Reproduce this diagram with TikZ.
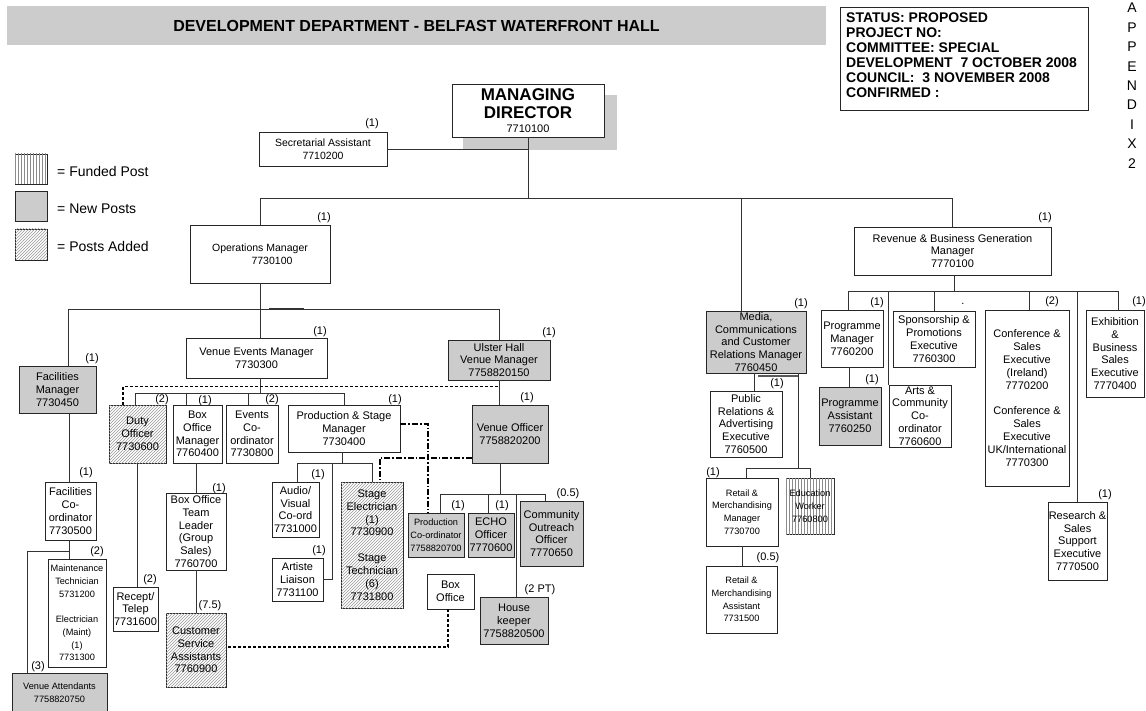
\documentclass[tikz,border=0pt]{standalone}
\usepackage{fontspec}
\setmainfont{Liberation Sans}
\usetikzlibrary{patterns,calc}
\newcommand{\fsz}[1]{\fontsize{#1}{12.8}\selectfont}
\tikzset{
  post/.style={draw=black!85, line width=0.8pt, fill=white, inner sep=0.5pt,
    align=center, font=\fsz{11}},
  newpost/.style={post, fill=black!20},
  addedpost/.style={post, postaction={pattern=north east lines, pattern color=black!40}},
  fundedpost/.style={post, postaction={pattern=vertical lines, pattern color=black!45}},
  smalltext/.style={font=\fsz{9.2}},
  midtext/.style={font=\fsz{10.5}},
  link/.style={draw=black!80, line width=0.8pt},
  dashlink/.style={draw=black, line width=1.6pt, dash pattern=on 3pt off 2pt},
  dotdashlink/.style={draw=black, line width=1.6pt, dash pattern=on 6pt off 2pt on 1.6pt off 2pt},
  lbl/.style={inner sep=0pt, font=\fsz{11}},
}
\begin{document}
\begin{tikzpicture}[x=1pt,y=-1pt]
\useasboundingbox (0,0) rectangle (1146,711);

% ---- heading, status panel, appendix mark
\node[fill=black!20, minimum width=819, minimum height=39, inner sep=0,
  font=\bfseries\fontsize{16}{18}\selectfont] (title) at (416.5,25.5)
  {DEVELOPMENT DEPARTMENT - BELFAST WATERFRONT HALL};
\node[draw=black!85, line width=0.8pt, minimum width=248, minimum height=103,
  anchor=north west, inner sep=0] (statusbox) at (840,7) {};
\node[anchor=north west, align=left, inner sep=0,
  font=\bfseries\fontsize{14}{15}\selectfont] (statustext) at (846,12.3)
  {STATUS: PROPOSED\\PROJECT NO:\\COMMITTEE: SPECIAL\\DEVELOPMENT~~7 OCTOBER 2008\\COUNCIL:~~3 NOVEMBER 2008\\CONFIRMED :};
\node[anchor=north, align=center, inner sep=0, font=\fontsize{14}{19.4}\selectfont]
  (appx) at (1132,3) {A\\P\\P\\E\\N\\D\\I\\X\\2};

% ---- key
\node[fundedpost, minimum width=32, minimum height=30] (keyfunded) at (31,169) {};
\node[newpost, minimum width=32, minimum height=30] (keynew) at (31,206) {};
\node[addedpost, minimum width=32, minimum height=31] (keyadded) at (31,244.5) {};
\node[anchor=west, inner sep=0, font=\fsz{14}] (keyfundedtxt) at (57,171) {= Funded Post};
\node[anchor=west, inner sep=0, font=\fsz{14}] (keynewtxt) at (57,209) {= New Posts};
\node[anchor=west, inner sep=0, font=\fsz{14}] (keyaddedtxt) at (57,246) {= Posts Added};

% ---- top level
\fill[black!20] (463,95) rectangle (617,150);
\node[post, minimum width=152, minimum height=53, font=\bfseries\fontsize{17}{18}\selectfont]
  (md) at (528,110.5) {MANAGING\\DIRECTOR\\[-4pt]{\mdseries\fontsize{11}{12}\selectfont 7710100}};
\node[post, midtext, minimum width=128, minimum height=34] (sec) at (323,149)
  {Secretarial Assistant\\7710200};
\node[post, midtext, minimum width=140, minimum height=58] (ops) at (260,254)
  {Operations Manager\\\hspace*{24pt}7730100};
\node[post, minimum width=197, minimum height=48] (rev) at (952.5,251)
  {Revenue \& Business Generation\\Manager\\7770100};

% ---- operations
\node[newpost, minimum width=77, minimum height=47] (fm) at (57.5,389.5)
  {Facilities\\Manager\\7730450};
\node[post, minimum width=141, minimum height=40] (vem) at (256.5,358)
  {Venue Events Manager\\7730300};
\node[newpost, minimum width=102, minimum height=40] (ulster) at (499,360)
  {Ulster Hall\\Venue Manager\\7758820150};
\node[addedpost, minimum width=57, minimum height=58] (duty) at (137.5,434)
  {Duty\\Officer\\7730600};
\node[post, minimum width=49, minimum height=58] (bom) at (197.5,434)
  {Box\\Office\\Manager\\7760400};
\node[post, minimum width=52, minimum height=58] (events) at (252,434)
  {Events\\Co-\\ordinator\\7730800};
\node[post, minimum width=112, minimum height=47] (ps) at (344,428.5)
  {Production \& Stage\\Manager\\7730400};
\node[newpost, minimum width=76, minimum height=58] (vo) at (510,434)
  {Venue Officer\\7758820200};
\node[post, minimum width=51, minimum height=58] (fc) at (70.5,511)
  {Facilities\\Co-\\ordinator\\7730500};
\node[post, smalltext, minimum width=58, minimum height=108] (maint) at (77,613)
  {Maintenance\\Technician\\5731200\\[12.5pt]Electrician\\(Maint)\\(1)\\7731300};
\node[newpost, smalltext, minimum width=95, minimum height=39] (va) at (59.5,692.5)
  {Venue Attendants\\7758820750};
\node[post, minimum width=45, minimum height=44] (recept) at (135.5,609)
  {Recept/\\Telep\\7731600};
\node[post, minimum width=60, minimum height=77] (botl) at (196,531.5)
  {Box Office\\Team\\Leader\\(Group\\Sales)\\7760700};
\node[addedpost, minimum width=60, minimum height=74] (cs) at (196,650)
  {Customer\\Service\\Assistants\\7760900};
\node[post, minimum width=47, minimum height=55] (audio) at (295.5,509.5)
  {Audio/\\Visual\\Co-ord\\7731000};
\node[addedpost, minimum width=62, minimum height=126] (stage) at (372,545)
  {Stage\\Electrician\\(1)\\7730900\\[13pt]Stage\\Technician\\(6)\\7731800};
\node[post, minimum width=51, minimum height=43] (artiste) at (297.5,579.5)
  {Artiste\\Liaison\\7731100};
\node[newpost, smalltext, minimum width=56, minimum height=44] (pcoord) at (436,535)
  {Production\\Co-ordinator\\7758820700};
\node[newpost, minimum width=46, minimum height=44] (echo) at (491,535)
  {ECHO\\Officer\\7770600};
\node[newpost, minimum width=63, minimum height=65] (comm) at (551.5,533.5)
  {Community\\Outreach\\Officer\\7770650};
\node[post, minimum width=47, minimum height=35] (boxoff) at (450.5,591.5)
  {Box\\Office};
\node[newpost, minimum width=68, minimum height=47] (house) at (514,620.5)
  {House\\keeper\\7758820500};

% ---- media, communications and revenue
\node[newpost, minimum width=100, minimum height=62] (media) at (756,342)
  {Media,\\Communications\\and Customer\\Relations Manager\\7760450};
\draw[black!65, line width=1.2pt] ($(media.south)+(2,2.5)$) -- ($(media.south)+(42,2.5)$);
\node[post, minimum width=72, minimum height=66] (pr) at (746,424)
  {Public\\Relations \&\\Advertising\\Executive\\7760500};
\node[post, smalltext, minimum width=72, minimum height=68] (rm) at (742,512)
  {Retail \&\\Merchandising\\Manager\\7730700};
\node[fundedpost, smalltext, minimum width=48, minimum height=56] (edu) at (810,506)
  {Education\\Worker\\7760800};
\node[post, smalltext, minimum width=71, minimum height=67] (ra) at (741.5,599.5)
  {Retail \&\\Merchandising\\Assistant\\7731500};
\node[post, minimum width=62, minimum height=57] (pm) at (852,338.5)
  {Programme\\Manager\\7760200};
\node[newpost, minimum width=62, minimum height=58] (pa) at (850,416)
  {Programme\\Assistant\\7760250};
\node[post, minimum width=82, minimum height=56] (spons) at (934,339)
  {Sponsorship \&\\Promotions\\Executive\\7760300};
\node[post, minimum width=62, minimum height=62] (arts) at (920,416)
  {Arts \&\\Community\\Co-\\ordinator\\7760600};
\node[post, minimum width=84, minimum height=176] (conf) at (1027,398)
  {Conference \&\\Sales\\Executive\\(Ireland)\\7770200\\[13pt]Conference \&\\Sales\\Executive\\UK/International\\7770300};
\node[post, minimum width=58, minimum height=87] (exhib) at (1115,353.5)
  {Exhibition\\\&\\Business\\Sales\\Executive\\7770400};
\node[post, minimum width=59, minimum height=78] (research) at (1077.5,541)
  {Research \&\\Sales\\Support\\Executive\\7770500};

% ---- post counts
\node[lbl] (nsec) at (372,124) {(1)};
\node[lbl] (nops) at (324,218) {(1)};
\node[lbl] (nrev) at (1045,218) {(1)};
\node[lbl] (nfm) at (92,359) {(1)};
\node[lbl] (nvem) at (320,332) {(1)};
\node[lbl] (nulster) at (549,333) {(1)};
\node[lbl] (nduty) at (162,400) {(2)};
\node[lbl] (nbom) at (205,401) {(1)};
\node[lbl] (nevents) at (272,400) {(2)};
\node[lbl] (nps) at (395,400) {(1)};
\node[lbl] (nvo) at (527,398) {(1)};
\node[lbl] (nfc) at (86,473) {(1)};
\node[lbl] (nmaint) at (97,552) {(2)};
\node[lbl] (nva) at (38,667) {(3)};
\node[lbl] (nrecept) at (150,580) {(2)};
\node[lbl] (nbotl) at (219,489) {(1)};
\node[lbl] (ncs) at (210,606) {(7.5)};
\node[lbl] (naudio) at (318,475) {(1)};
\node[lbl] (nartiste) at (319,551) {(1)};
\node[lbl] (npcoord) at (458,506) {(1)};
\node[lbl] (necho) at (502,506) {(1)};
\node[lbl] (ncomm) at (568,494) {(0.5)};
\node[lbl] (nhouse) at (540,590) {(2 PT)};
\node[lbl] (nmedia) at (801,304) {(1)};
\node[lbl] (npr) at (777,384) {(1)};
\node[lbl] (nrm) at (713,473) {(1)};
\node[lbl] (nra) at (768,558) {(0.5)};
\node[lbl] (npm) at (877,303) {(1)};
\node[lbl] (npa) at (872,380) {(1)};
\node[lbl] (nspons) at (963,304) {.};
\node[lbl] (nconf) at (1052,302) {(2)};
\node[lbl] (nexhib) at (1139,302) {(1)};
\node[lbl] (nresearch) at (1105,495) {(1)};

% ---- reporting lines: director level
\draw[link] (sec.east) -- (sec.east -| md.south);
\draw[link] (md.south) -- ++(0,61) coordinate (topbar);
\draw[link] (ops.north) -- (ops.north |- topbar) -- (rev.north |- topbar) -- (rev.north);
\coordinate (mediain) at ($(media.north)+(-15,0)$);
\draw[link] (mediain) -- (mediain |- topbar);

% ---- operations branch
\draw[link] (ops.south) -- ++(0,26) coordinate (opsbar);
\draw[link] (opsbar) -- (opsbar |- vem.north);
\coordinate (fmin) at ($(fm.north)+(10.5,0)$);
\draw[link] (fmin) -- (fmin |- opsbar) -- (ulster.north |- opsbar) -- (ulster.north);
\draw[black!80, line width=2pt] ($(opsbar)+(9,0)$) -- ++(35,0);

\coordinate (vemout) at ($(vem.south)+(3.5,0)$);
\draw[link] (vemout) -- ++(0,15) coordinate (vembar);
\coordinate (dutyin) at ($(duty.north)+(-2.5,0)$);
\coordinate (bomin) at ($(bom.north)+(-11.5,0)$);
\coordinate (evin) at ($(events.north)+(-4,0)$);
\draw[link] (dutyin) -- (dutyin |- vembar) -- (ps.north |- vembar) -- (ps.north);
\draw[link] (bomin) -- (bomin |- vembar);
\draw[link] (evin) -- (evin |- vembar);

\coordinate (dutydash) at ($(duty.north)+(-14.5,0)$);
\coordinate (dashy) at ($(vem.south)+(0,8)$);
\draw[dashlink] (dutydash) -- (dutydash |- dashy) -- (ulster.south |- dashy);
\draw[link] (ulster.south) -- (ulster.south |- vo.north);

\coordinate (psdd) at ($(ps.east)+(0,-4.5)$);
\coordinate (pcin) at ($(pcoord.north)+(-8,0)$);
\draw[dotdashlink] (psdd) -- (psdd -| pcin) -- (pcin);
\coordinate (vodd) at ($(vo.west)+(0,24)$);
\coordinate (stagein2) at ($(stage.north)+(8,0)$);
\draw[dotdashlink] (vodd) -- (vodd -| stagein2) -- (stagein2);

\coordinate (psout) at ($(ps.south)+(-2,0)$);
\draw[link] (psout) -- ++(0,11) coordinate (psbar);
\coordinate (audioin) at ($(audio.north)+(1.5,0)$);
\draw[link] (audioin) -- (audioin |- psbar) -- (stage.north |- psbar) -- (stage.north);
\coordinate (artline) at ($(psbar)+(-10,0)$);
\draw[link] (artiste.east) -- (artiste.east -| artline) -- (artline);

\coordinate (voout) at ($(vo.south)+(-10,0)$);
\draw[link] (voout) -- ++(0,31) coordinate (vobar);
\coordinate (pcin2) at ($(pcoord.north)+(4,0)$);
\coordinate (echoin) at ($(echo.north)+(-3,0)$);
\coordinate (comin) at ($(comm.north)+(-6.5,0)$);
\draw[link] (pcin2) -- (pcin2 |- vobar) -- (comin |- vobar) -- (comin);
\draw[link] (echoin) -- (echoin |- vobar);
\coordinate (housein) at ($(house.north)+(2,0)$);
\draw[link] (housein |- vobar) -- (housein);

\coordinate (boxoffout) at ($(boxoff.south)+(-2.5,0)$);
\coordinate (csdash) at ($(cs.east)+(0,-3)$);
\draw[dashlink] (boxoffout) -- (boxoffout |- csdash) -- (csdash);

\coordinate (fmout) at ($(fm.south)+(11.5,0)$);
\draw[link] (fmout) -- (fmout |- fc.north);
\coordinate (fcout) at ($(fc.south)+(-1.5,0)$);
\draw[link] (fcout) -- (fcout |- maint.north);
\coordinate (fcbr) at ($(fcout)+(0,11)$);
\coordinate (vain) at ($(va.north)+(-32.5,0)$);
\draw[link] (fcbr) -- (fcbr -| vain) -- (vain);

\coordinate (dutyout) at ($(duty.south)+(-0.5,0)$);
\draw[link] (dutyout) -- (dutyout |- recept.north);
\coordinate (bomout) at ($(bom.south)+(-1.5,0)$);
\draw[link] (bomout) -- (bomout |- botl.north);
\draw[link] (botl.south) -- (cs.north);

% ---- media branch
\coordinate (medout1) at ($(media.south)+(-2,0)$);
\draw[link] (medout1) -- (medout1 |- pr.north);
\coordinate (medout2) at ($(media.south)+(42,0)$);
\draw[link] (medout2) -- ++(0,95) coordinate (medbar);
\coordinate (rmin) at ($(rm.north)+(4,0)$);
\draw[link] (rmin) -- (rmin |- medbar) -- (edu.north |- medbar) -- (edu.north);
\draw[link] (rm.south) -- (rm.south |- ra.north);

% ---- revenue branch
\coordinate (revout) at ($(rev.south)+(1.5,0)$);
\draw[link] (revout) -- ++(0,16) coordinate (revbar);
\coordinate (pmin) at ($(pm.north)+(-4,0)$);
\coordinate (exin) at ($(exhib.north)+(3,0)$);
\draw[link] (pmin) -- (pmin |- revbar) -- (exin |- revbar) -- (exin);
\draw[link] (arts.north west |- revbar) -- (arts.north west);
\draw[link] (spons.north |- revbar) -- (spons.north);
\coordinate (confin) at ($(conf.north)+(2,0)$);
\draw[link] (confin |- revbar) -- (confin);
\draw[link] (research.north |- revbar) -- (research.north);
\coordinate (pmout) at ($(pm.south)+(-3,0)$);
\draw[link] (pmout) -- (pmout |- pa.north);
\end{tikzpicture}
\end{document}
